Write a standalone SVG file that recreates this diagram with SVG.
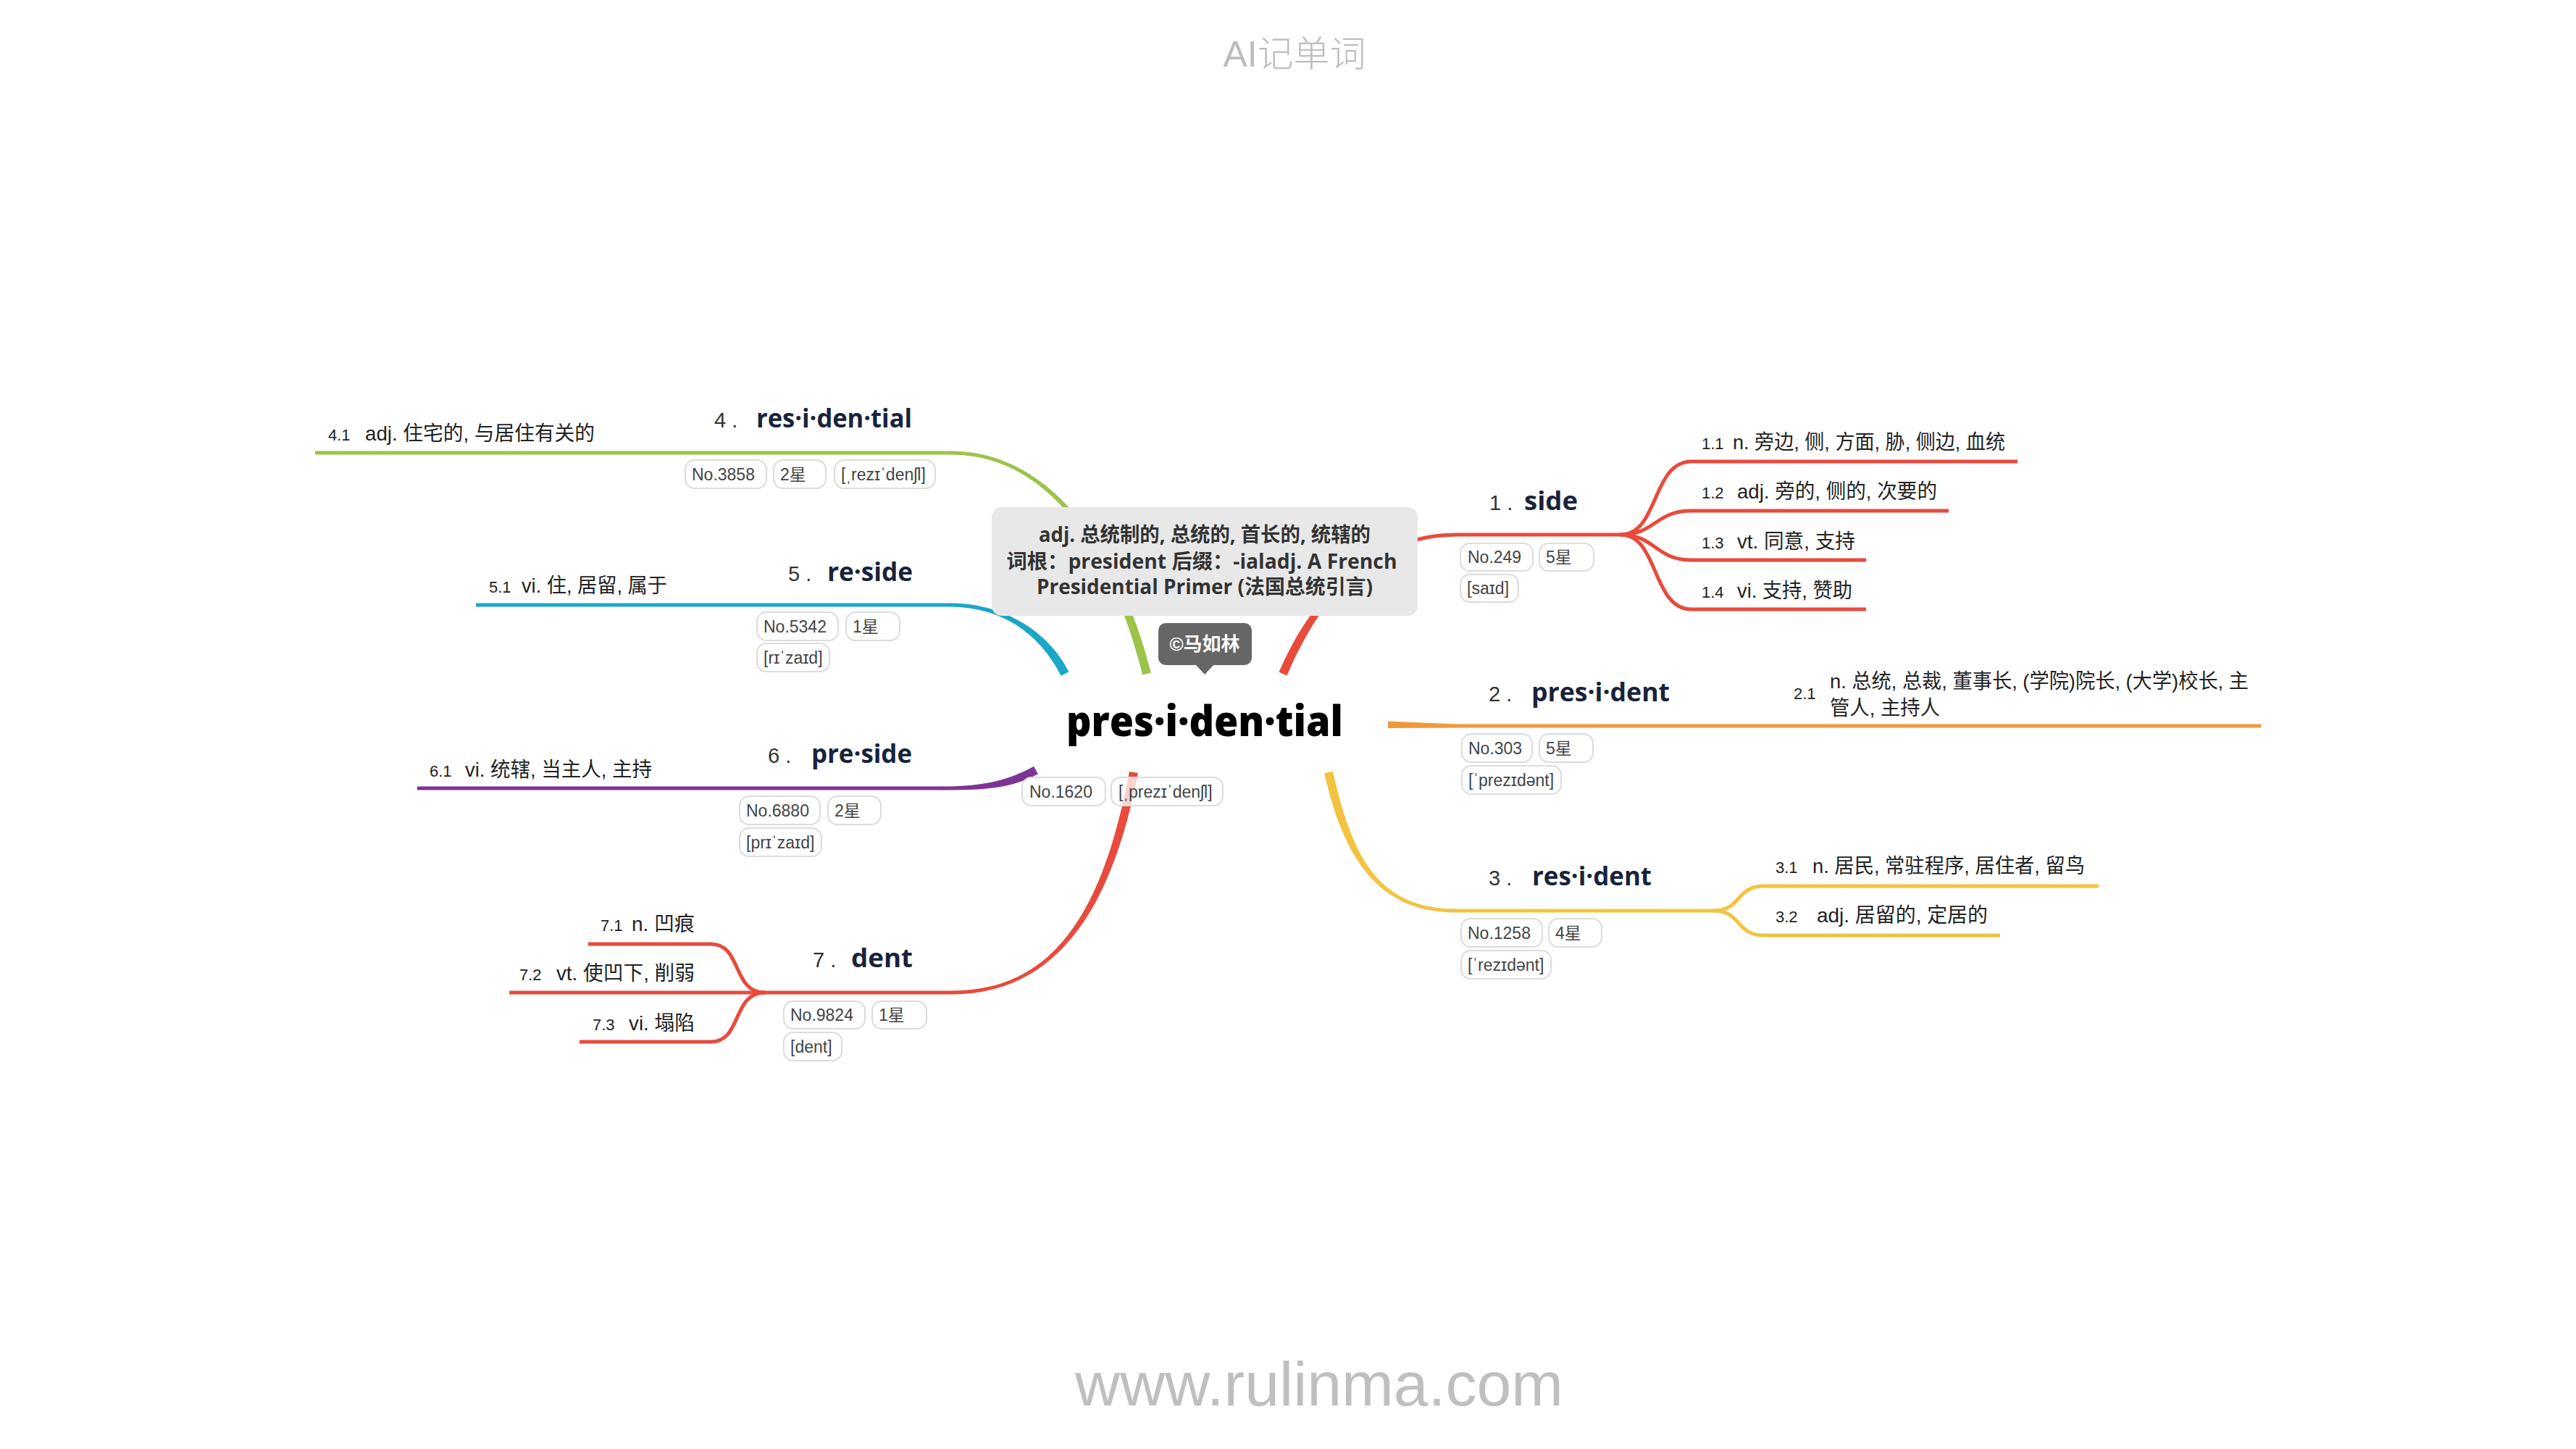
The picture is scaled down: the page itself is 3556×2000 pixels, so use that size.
<svg xmlns="http://www.w3.org/2000/svg" width="3556" height="2000" viewBox="0 0 3556 2000">
<style>
.ln{fill:none;stroke-width:5;stroke-linecap:butt}
.r{stroke:#e84a3c}.rf{fill:#e84a3c}
.o{stroke:#f0993a}.of{fill:#f0993a}
.y{stroke:#f3c33f}.yf{fill:#f3c33f}
.g{stroke:#9cc34a}.gf{fill:#9cc34a}
.b{stroke:#1aa7c8}.bf{fill:#1aa7c8}
.p{stroke:#7e3494}.pf{fill:#7e3494}
.num{font-family:"Liberation Sans",sans-serif;font-size:29px;fill:#333}
.word{font-family:"Open Sans","Liberation Sans",sans-serif;font-weight:700;font-size:36px;fill:#18233a}
.pill{fill:#fff;fill-opacity:0.75;stroke:#dcdcdc;stroke-width:2}
.pt{font-family:"Liberation Sans","DejaVu Sans","Noto Sans CJK SC",sans-serif;font-size:23px;fill:#444}
.sn{font-family:"Liberation Sans",sans-serif;font-size:22px;fill:#222}
.def{font-family:"Liberation Sans","Noto Sans CJK SC",sans-serif;font-size:28px;fill:#222}
.note{font-family:"Open Sans","Noto Sans CJK SC",sans-serif;font-weight:700;font-size:28px;fill:#333;text-anchor:middle}
</style>
<rect width="3556" height="2000" fill="#fff"/>
<text x="1787" y="92" text-anchor="middle" font-family="Liberation Sans, Noto Sans CJK SC, sans-serif" font-weight="300" font-size="50" fill="#bdbdbd">AI记单词</text>
<text x="1821" y="1940" text-anchor="middle" font-family="Liberation Sans, sans-serif" font-size="86" fill="#bfbfbf">www.rulinma.com</text>

<g id="connectors">
  <!-- 1 side -->
  <path class="rf" d="M1776.5,932.4 C1815.5,842.4 1880,740.5 2013,740.5 L2013,735.5 C1880,735.5 1804.5,837.6 1765.5,927.6 Z"/>
  <path class="ln r" d="M2012,738 H2240"/>
  <path class="ln r" d="M2237,738 C2290,738 2280,637 2335,637 H2785"/>
  <path class="ln r" d="M2237,738 C2285,738 2285,705 2335,705 H2690"/>
  <path class="ln r" d="M2237,738 C2285,738 2285,773 2335,773 H2576"/>
  <path class="ln r" d="M2237,738 C2290,738 2280,841 2335,841 H2576"/>
  <!-- 2 president -->
  <path class="of" d="M1916,995.5 L2012,999.5 L2012,1004.5 L1916,1005 Z"/>
  <path class="ln o" d="M2011,1002 H3121"/>
  <!-- 3 resident -->
  <path class="yf" d="M1828.2,1067.3 C1854.2,1181.3 1900,1259.5 2010,1259.5 L2010,1254.5 C1900,1254.5 1865.9,1178.7 1839.9,1064.7 Z"/>
  <path class="ln y" d="M2009,1257 H2368"/>
  <path class="ln y" d="M2365,1257 C2405,1257 2395,1223 2435,1223 H2897"/>
  <path class="ln y" d="M2365,1257 C2405,1257 2395,1291 2435,1291 H2761"/>
  <!-- 4 residential -->
  <path class="gf" d="M1588.8,928.5 C1545.8,758.5 1450,622.5 1312,622.5 L1312,627.5 C1450,627.5 1534.2,761.5 1577.2,931.5 Z"/>
  <path class="ln g" d="M1313,625 H435"/>
  <!-- 5 reside -->
  <path class="bf" d="M1475.4,927.3 C1445.4,867.3 1380,832.5 1312,832.5 L1312,837.5 C1380,837.5 1434.6,872.7 1464.6,932.7 Z"/>
  <path class="ln b" d="M1313,835 H657"/>
  <!-- 6 preside -->
  <path class="pf" d="M1427.1,1057.7 C1387.1,1079.7 1350,1085.5 1300,1085.5 L1300,1090.5 C1350,1090.5 1392.9,1090.3 1432.9,1068.3 Z"/>
  <path class="ln p" d="M1301,1088 H576"/>
  <!-- 7 dent -->
  <path class="rf" d="M1559.1,1064.9 C1524.1,1248.9 1460,1367.5 1314,1367.5 L1314,1372.5 C1460,1372.5 1535.9,1251.1 1570.9,1067.1 Z"/>
  <path class="ln r" d="M1315,1370 H1053"/>
  <path class="ln r" d="M1056,1370 C1010,1370 1025,1303 981,1303 H812"/>
  <path class="ln r" d="M1056,1370 H703"/>
  <path class="ln r" d="M1056,1370 C1010,1370 1025,1438 981,1438 H800"/>
</g>

<g id="center">
  <text x="1472" y="1016" font-family="Open Sans, Liberation Sans, sans-serif" font-weight="800" font-size="58" fill="#000" textLength="382" lengthAdjust="spacingAndGlyphs">pres·i·den·tial</text>
  <rect class="pill" x="1411" y="1073" width="115" height="39" rx="13"/>
  <text class="pt" x="1421" y="1101">No.1620</text>
  <rect class="pill" x="1534" y="1073" width="154" height="39" rx="13"/>
  <text class="pt" x="1544" y="1101">[ˌprezɪˈdenʃl]</text>
</g>

<g id="note">
  <rect x="1369" y="700" width="588" height="150" rx="14" fill="#e8e8e8"/>
  <text class="note" x="1663" y="748" textLength="458" lengthAdjust="spacingAndGlyphs">adj. 总统制的, 总统的, 首长的, 统辖的</text>
  <text class="note" x="1659" y="785" textLength="539" lengthAdjust="spacingAndGlyphs">词根：president 后缀：-ialadj. A French</text>
  <text class="note" x="1663" y="820" textLength="464" lengthAdjust="spacingAndGlyphs">Presidential Primer (法国总统引言)</text>
</g>

<g id="badge">
  <rect x="1599" y="860" width="129" height="58" rx="10" fill="#666"/>
  <path d="M1650,917 L1676,917 L1663,931 Z" fill="#666"/>
  <text x="1663" y="898" text-anchor="middle" font-family="Liberation Sans, Noto Sans CJK SC, sans-serif" font-weight="700" font-size="26" fill="#fff">©马如林</text>
</g>

<g id="node-1">
  <text class="num" x="2056" y="704">1 .</text>
  <text class="word" x="2104" y="704" textLength="74" lengthAdjust="spacingAndGlyphs">side</text>
  <rect class="pill" x="2016" y="750" width="100" height="38" rx="13"/>
  <text class="pt" x="2026" y="777">No.249</text>
  <rect class="pill" x="2125" y="750" width="75" height="38" rx="13"/>
  <text class="pt" x="2134" y="777">5星</text>
  <rect class="pill" x="2016" y="793" width="80" height="38" rx="13"/>
  <text class="pt" x="2025" y="820">[saɪd]</text>
</g>
<g id="node-1-1"><text class="sn" x="2349" y="620">1.1</text><text class="def" x="2392" y="620" textLength="376" lengthAdjust="spacingAndGlyphs">n. 旁边, 侧, 方面, 胁, 侧边, 血统</text></g>
<g id="node-1-2"><text class="sn" x="2349" y="688">1.2</text><text class="def" x="2398" y="688" textLength="276" lengthAdjust="spacingAndGlyphs">adj. 旁的, 侧的, 次要的</text></g>
<g id="node-1-3"><text class="sn" x="2349" y="757">1.3</text><text class="def" x="2398" y="757" textLength="163" lengthAdjust="spacingAndGlyphs">vt. 同意, 支持</text></g>
<g id="node-1-4"><text class="sn" x="2349" y="825">1.4</text><text class="def" x="2398" y="825" textLength="159" lengthAdjust="spacingAndGlyphs">vi. 支持, 赞助</text></g>

<g id="node-2">
  <text class="num" x="2055" y="968">2 .</text>
  <text class="word" x="2114" y="968" textLength="191" lengthAdjust="spacingAndGlyphs">pres·i·dent</text>
  <rect class="pill" x="2018" y="1013" width="97" height="39" rx="13"/>
  <text class="pt" x="2027" y="1041">No.303</text>
  <rect class="pill" x="2125" y="1013" width="74" height="39" rx="13"/>
  <text class="pt" x="2134" y="1041">5星</text>
  <rect class="pill" x="2018" y="1057" width="137" height="39" rx="13"/>
  <text class="pt" x="2027" y="1085">[ˈprezɪdənt]</text>
</g>
<g id="node-2-1">
  <text class="sn" x="2476" y="965">2.1</text>
  <text class="def" x="2526" y="950" textLength="578" lengthAdjust="spacingAndGlyphs">n. 总统, 总裁, 董事长, (学院)院长, (大学)校长, 主</text>
  <text class="def" x="2526" y="987" textLength="152" lengthAdjust="spacingAndGlyphs">管人, 主持人</text>
</g>

<g id="node-3">
  <text class="num" x="2055" y="1222">3 .</text>
  <text class="word" x="2115" y="1222" textLength="165" lengthAdjust="spacingAndGlyphs">res·i·dent</text>
  <rect class="pill" x="2017" y="1268" width="112" height="39" rx="13"/>
  <text class="pt" x="2026" y="1296">No.1258</text>
  <rect class="pill" x="2138" y="1268" width="73" height="39" rx="13"/>
  <text class="pt" x="2147" y="1296">4星</text>
  <rect class="pill" x="2017" y="1312" width="124" height="39" rx="13"/>
  <text class="pt" x="2026" y="1340">[ˈrezɪdənt]</text>
</g>
<g id="node-3-1"><text class="sn" x="2451" y="1205">3.1</text><text class="def" x="2502" y="1205" textLength="376" lengthAdjust="spacingAndGlyphs">n. 居民, 常驻程序, 居住者, 留鸟</text></g>
<g id="node-3-2"><text class="sn" x="2451" y="1273">3.2</text><text class="def" x="2508" y="1273" textLength="236" lengthAdjust="spacingAndGlyphs">adj. 居留的, 定居的</text></g>

<g id="node-4">
  <text class="num" x="986" y="590">4 .</text>
  <text class="word" x="1044" y="590" textLength="215" lengthAdjust="spacingAndGlyphs">res·i·den·tial</text>
  <rect class="pill" x="946" y="635" width="112" height="39" rx="13"/>
  <text class="pt" x="955" y="663">No.3858</text>
  <rect class="pill" x="1068" y="635" width="72" height="39" rx="13"/>
  <text class="pt" x="1077" y="663">2星</text>
  <rect class="pill" x="1152" y="635" width="139" height="39" rx="13"/>
  <text class="pt" x="1161" y="663">[ˌrezɪˈdenʃl]</text>
</g>
<g id="node-4-1"><text class="sn" x="453" y="608">4.1</text><text class="def" x="504" y="608" textLength="317" lengthAdjust="spacingAndGlyphs">adj. 住宅的, 与居住有关的</text></g>

<g id="node-5">
  <text class="num" x="1088" y="802">5 .</text>
  <text class="word" x="1142" y="802" textLength="118" lengthAdjust="spacingAndGlyphs">re·side</text>
  <rect class="pill" x="1045" y="845" width="112" height="39" rx="13"/>
  <text class="pt" x="1054" y="873">No.5342</text>
  <rect class="pill" x="1168" y="845" width="74" height="39" rx="13"/>
  <text class="pt" x="1177" y="873">1星</text>
  <rect class="pill" x="1045" y="888" width="100" height="39" rx="13"/>
  <text class="pt" x="1054" y="916">[rɪˈzaɪd]</text>
</g>
<g id="node-5-1"><text class="sn" x="675" y="818">5.1</text><text class="def" x="720" y="818" textLength="201" lengthAdjust="spacingAndGlyphs">vi. 住, 居留, 属于</text></g>

<g id="node-6">
  <text class="num" x="1060" y="1053">6 .</text>
  <text class="word" x="1120" y="1053" textLength="139" lengthAdjust="spacingAndGlyphs">pre·side</text>
  <rect class="pill" x="1021" y="1099" width="111" height="39" rx="13"/>
  <text class="pt" x="1030" y="1127">No.6880</text>
  <rect class="pill" x="1143" y="1099" width="73" height="39" rx="13"/>
  <text class="pt" x="1152" y="1127">2星</text>
  <rect class="pill" x="1021" y="1143" width="113" height="39" rx="13"/>
  <text class="pt" x="1030" y="1171">[prɪˈzaɪd]</text>
</g>
<g id="node-6-1"><text class="sn" x="593" y="1072">6.1</text><text class="def" x="642" y="1072" textLength="258" lengthAdjust="spacingAndGlyphs">vi. 统辖, 当主人, 主持</text></g>

<g id="node-7">
  <text class="num" x="1122" y="1335">7 .</text>
  <text class="word" x="1175" y="1335" textLength="85" lengthAdjust="spacingAndGlyphs">dent</text>
  <rect class="pill" x="1082" y="1382" width="112" height="38" rx="13"/>
  <text class="pt" x="1091" y="1409">No.9824</text>
  <rect class="pill" x="1204" y="1382" width="75" height="38" rx="13"/>
  <text class="pt" x="1213" y="1409">1星</text>
  <rect class="pill" x="1082" y="1425" width="80" height="39" rx="13"/>
  <text class="pt" x="1091" y="1453">[dent]</text>
</g>
<g id="node-7-1"><text class="sn" x="829" y="1285">7.1</text><text class="def" x="872" y="1285" textLength="87" lengthAdjust="spacingAndGlyphs">n. 凹痕</text></g>
<g id="node-7-2"><text class="sn" x="717" y="1353">7.2</text><text class="def" x="768" y="1353" textLength="191" lengthAdjust="spacingAndGlyphs">vt. 使凹下, 削弱</text></g>
<g id="node-7-3"><text class="sn" x="818" y="1422">7.3</text><text class="def" x="868" y="1422" textLength="91" lengthAdjust="spacingAndGlyphs">vi. 塌陷</text></g>
</svg>
